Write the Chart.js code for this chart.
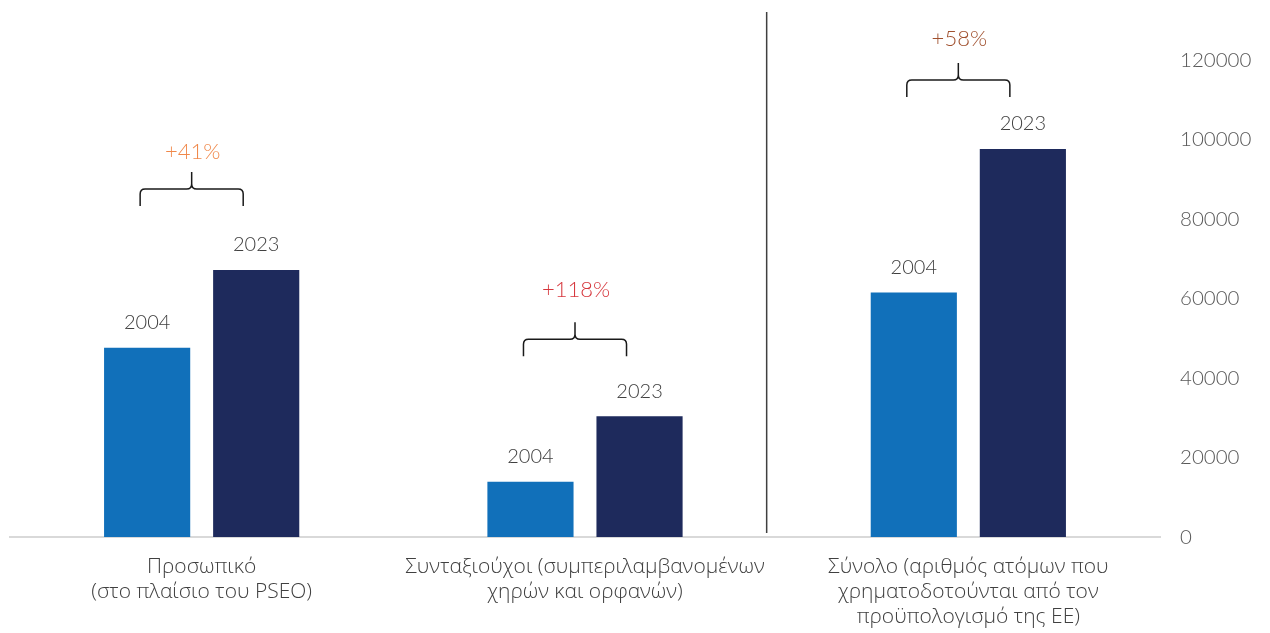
<!DOCTYPE html>
<html lang="el">
<head>
    <meta charset="UTF-8">
    <title>PSEO - Προσωπικό και συνταξιούχοι</title>
    <script src="https://cdn.jsdelivr.net/npm/chart.js"></script>
    <style>
        body { margin: 0; background: #fff; }
        #wrap { width: 1270px; height: 633px; }
    </style>
</head>
<body>
    <div id="wrap"><canvas id="staffChart"></canvas></div>

    <script>
        // Data
        const categories = [
            ['Προσωπικό', '(στο πλαίσιο του PSEO)'],
            ['Συνταξιούχοι (συμπεριλαμβανομένων', 'χηρών και ορφανών)'],
            ['Σύνολο (αριθμός ατόμων που', 'χρηματοδοτούνται από τον', 'προϋπολογισμό της ΕΕ)']
        ];
        const years = ['2004', '2023'];
        const values2004 = [47600, 13900, 61500];
        const values2023 = [67200, 30400, 97600];
        const changeLabels = ['+41%', '+118%', '+58%'];
        const changeColors = ['#F0884A', '#D6373D', '#A0502E'];
        const yTicks = [0, 20000, 40000, 60000, 80000, 100000, 120000];

        Chart.defaults.font.family = 'Lato, "Open Sans", sans-serif';
        Chart.defaults.font.weight = '300';

        // Year label above each bar
        const yearLabels = {
            id: 'yearLabels',
            afterDatasetsDraw(chart) {
                const ctx = chart.ctx;
                ctx.save();
                ctx.font = '300 20px Lato, sans-serif';
                ctx.fillStyle = '#404040';
                ctx.textAlign = 'center';
                ctx.textBaseline = 'middle';
                chart.data.datasets.forEach((ds, i) => {
                    chart.getDatasetMeta(i).data.forEach(bar => {
                        ctx.fillText(ds.label, bar.x, bar.y - 25);
                    });
                });
                ctx.restore();
            }
        };

        // Curly braces with the change in percent, plus the separator line
        const braces = {
            id: 'braces',
            afterDatasetsDraw(chart, args, opts) {
                const ctx = chart.ctx;
                const a = chart.getDatasetMeta(0).data;
                const b = chart.getDatasetMeta(1).data;
                ctx.save();
                a.forEach((bar, i) => {
                    const x1 = bar.x - 7;
                    const x2 = b[i].x - 13;
                    const xm = (x1 + x2) / 2;
                    const top = Math.min(bar.y, b[i].y);
                    const L = top - opts.lineOffset[i];
                    const h = 17, r = 5;
                    ctx.beginPath();
                    ctx.moveTo(x1, L + h);
                    ctx.lineTo(x1, L + r);
                    ctx.quadraticCurveTo(x1, L, x1 + r, L);
                    ctx.lineTo(xm - r, L);
                    ctx.quadraticCurveTo(xm, L, xm, L - r);
                    ctx.lineTo(xm, L - h);
                    ctx.moveTo(xm, L - r);
                    ctx.quadraticCurveTo(xm, L, xm + r, L);
                    ctx.lineTo(x2 - r, L);
                    ctx.quadraticCurveTo(x2, L, x2, L + r);
                    ctx.lineTo(x2, L + h);
                    ctx.strokeStyle = '#1a1a1a';
                    ctx.lineWidth = 1.5;
                    ctx.stroke();

                    ctx.font = '300 22px Lato, sans-serif';
                    ctx.fillStyle = changeColors[i];
                    ctx.textAlign = 'center';
                    ctx.textBaseline = 'middle';
                    ctx.fillText(changeLabels[i], xm + 1, L - opts.textOffset[i]);
                });

                // vertical separator before the total
                const xs = chart.scales.x;
                const sx = (xs.getPixelForValue(1) + xs.getPixelForValue(2)) / 2 - 10;
                ctx.beginPath();
                ctx.moveTo(sx, 12);
                ctx.lineTo(sx, chart.chartArea.bottom - 4);
                ctx.strokeStyle = '#404040';
                ctx.lineWidth = 1.5;
                ctx.stroke();
                ctx.restore();
            }
        };

        new Chart(document.getElementById('staffChart'), {
            type: 'bar',
            data: {
                labels: categories,
                datasets: [{
                    label: years[0],
                    data: values2004,
                    backgroundColor: '#1170BA'
                }, {
                    label: years[1],
                    data: values2023,
                    backgroundColor: '#1E2A5C'
                }]
            },
            options: {
                responsive: true,
                maintainAspectRatio: false,
                animation: false,
                categoryPercentage: 0.569,
                barPercentage: 0.79,
                layout: { padding: { top: 60, left: 10, right: 0, bottom: 0 } },
                plugins: {
                    legend: { display: false },
                    tooltip: { enabled: false },
                    braces: { lineOffset: [81, 77, 69], textOffset: [37, 49, 41] }
                },
                scales: {
                    x: {
                        grid: { display: false, drawTicks: false },
                        border: { display: true, color: '#D9D9D9', width: 2 },
                        ticks: {
                            color: '#404040',
                            font: { family: '"Open Sans", Lato, sans-serif', size: 21, weight: '300', lineHeight: 1.2 },
                            padding: 17,
                            maxRotation: 0,
                            autoSkip: false
                        },
                        afterFit(scale) { scale.height = 96; }
                    },
                    y: {
                        position: 'right',
                        min: 0,
                        max: yTicks[yTicks.length - 1],
                        grid: { display: false, drawTicks: false },
                        border: { display: false },
                        afterBuildTicks(scale) {
                            scale.ticks = yTicks.map(v => ({ value: v }));
                        },
                        ticks: {
                            color: '#595959',
                            font: { size: 20.5, weight: '300' },
                            padding: 20,
                            callback: v => String(v)
                        },
                        afterFit(scale) { scale.width = 110; }
                    }
                }
            },
            plugins: [yearLabels, braces]
        });
    </script>
</body>
</html>
